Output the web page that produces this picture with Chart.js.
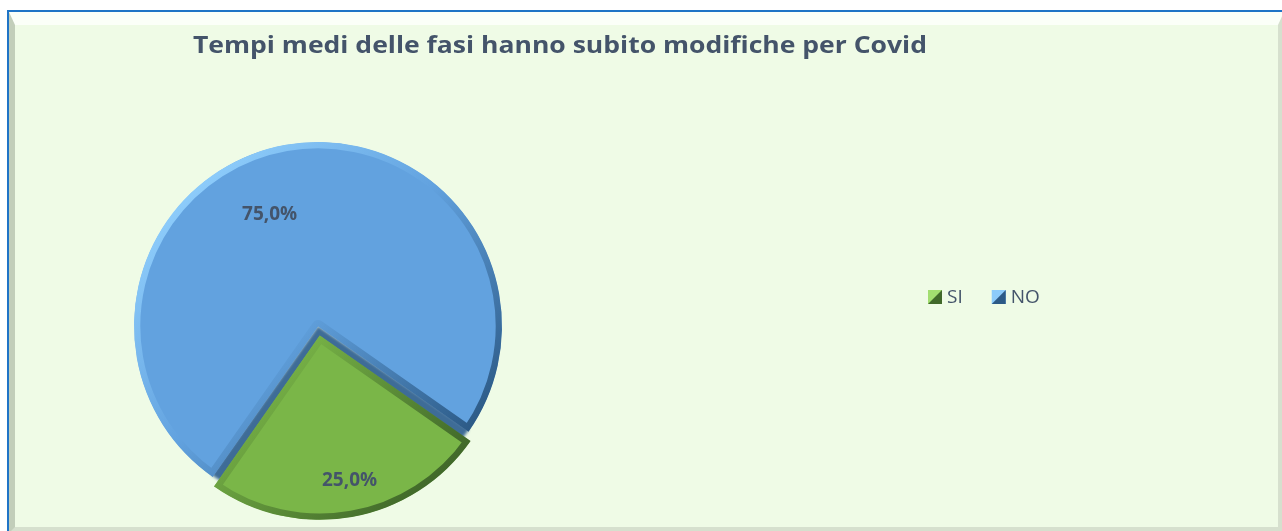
<!DOCTYPE html>
<html>
<head>
<meta charset="utf-8">
<script src="https://cdn.jsdelivr.net/npm/chart.js@4/dist/chart.umd.min.js"></script>
<style>
  html, body { margin: 0; padding: 0; width: 1282px; height: 531px; overflow: hidden; background: #ffffff; }
  #outer { position: absolute; left: 7px; top: 10px; width: 1290px; height: 530px;
           border-top: 2px solid #1F74C6; border-left: 2px solid #1F74C6; }
  #inner { position: absolute; left: 0; top: 0; width: 1275px; height: 521px; box-sizing: border-box;
           border-top: 13px solid #FBFFF8; border-left: 6px solid #C2CEBA;
           border-right: 6px solid #D6E0CE; border-bottom: 6px solid #D6E0CE; background: #EFFBE6; }
  #c { position: absolute; left: 0; top: 0; }
</style>
</head>
<body>
<div id="outer"><div id="inner"></div></div>
<canvas id="c" width="1282" height="531"></canvas>
<script>
const title = "Tempi medi delle fasi hanno subito modifiche per Covid";
const categories = ["SI", "NO"];
const values = [25.0, 75.0];
const valueLabels = ["25,0%", "75,0%"];
const sliceColors = ["#7AB648", "#62A2DF"];
const rimLight = ["#A2DE70", "#8CCBFA"];
const rimDark = ["#41692A", "#2C5A86"];
const cutShadow = "#3E6C97";

const TEXT = "#44546A";
const PIE_R = 184;

function rimGradient(c) {
  const chart = c.chart;
  const a = chart.chartArea;
  if (!a) return rimDark[c.dataIndex];
  const cx = (a.left + a.right) / 2, cy = (a.top + a.bottom) / 2;
  const g = chart.ctx.createLinearGradient(cx - PIE_R * 0.7, cy - PIE_R * 0.7, cx + PIE_R * 0.7, cy + PIE_R * 0.7);
  g.addColorStop(0, rimLight[c.dataIndex]);
  g.addColorStop(0.45, sliceColors[c.dataIndex]);
  g.addColorStop(1, rimDark[c.dataIndex]);
  return g;
}

// dark bevel of the big slice along the cut, visible behind the pulled-out slice
const cutShadowPlugin = {
  id: 'cutShadow',
  afterDatasetsDraw(chart) {},
  beforeDatasetDraw(chart) {
    const meta = chart.getDatasetMeta(0);
    const arc = meta.data[0];
    if (!arc) return;
    const ctx = chart.ctx;
    const p = arc.getProps(['x', 'y', 'startAngle', 'endAngle', 'outerRadius']);
    ctx.save();
    // draw the big slice first, then the shadow wedge, Chart.js redraws both slices after
    ctx.beginPath();
    ctx.moveTo(p.x, p.y);
    ctx.arc(p.x, p.y, p.outerRadius - 1, p.startAngle - 0.01, p.endAngle + 0.01);
    ctx.closePath();
    ctx.filter = 'blur(1.5px)';
    ctx.fillStyle = cutShadow;
    ctx.fill();
    ctx.restore();
  }
};

const titlePlugin = {
  id: 'customTitle',
  afterDraw(chart) {
    const ctx = chart.ctx;
    ctx.save();
    ctx.font = "bold 24px 'Open Sans'";
    ctx.fillStyle = TEXT;
    ctx.textBaseline = "alphabetic";
    const w = ctx.measureText(title).width;
    const target = 734;
    ctx.translate(193, 53);
    ctx.scale(target / w, 1);
    ctx.fillText(title, 0, 0);
    ctx.restore();
  }
};

const labelPlugin = {
  id: 'sliceLabels',
  afterDatasetsDraw(chart, args, opts) {
    const ctx = chart.ctx;
    const meta = chart.getDatasetMeta(0);
    const a = chart.chartArea;
    const cx = (a.left + a.right) / 2, cy = (a.top + a.bottom) / 2;
    ctx.save();
    ctx.font = "bold 19px 'Open Sans'";
    ctx.fillStyle = TEXT;
    ctx.textAlign = "center";
    ctx.textBaseline = "middle";
    meta.data.forEach((arc, i) => {
      const p = opts.pos[i];
      const mid = (arc.startAngle + arc.endAngle) / 2 + p.da * Math.PI / 180;
      const r = PIE_R * p.k;
      ctx.fillText(valueLabels[i], cx + Math.cos(mid) * r, cy + Math.sin(mid) * r);
    });
    ctx.restore();
  }
};

const legendPlugin = {
  id: 'customLegend',
  afterDraw(chart, args, opts) {
    const ctx = chart.ctx;
    ctx.save();
    ctx.font = "19px 'Open Sans'";
    ctx.textBaseline = "middle";
    let x = opts.x;
    const y = opts.y;
    const s = 14;
    categories.forEach((cat, i) => {
      ctx.fillStyle = rimLight[i];
      ctx.fillRect(x, y - s / 2, s, s);
      ctx.beginPath();
      ctx.moveTo(x + s, y - s / 2);
      ctx.lineTo(x + s, y + s / 2);
      ctx.lineTo(x, y + s / 2);
      ctx.closePath();
      ctx.fillStyle = rimDark[i];
      ctx.fill();
      ctx.fillStyle = TEXT;
      ctx.fillText(cat, x + s + 5, y + 1);
      x += s + 5 + ctx.measureText(cat).width + opts.gap;
    });
    ctx.restore();
  }
};

new Chart(document.getElementById('c'), {
  type: 'pie',
  data: {
    labels: categories,
    datasets: [{
      data: values,
      backgroundColor: sliceColors,
      borderColor: rimGradient,
      borderWidth: 6,
      borderAlign: 'inner',
      offset: [40, 0],
      hoverOffset: 0
    }]
  },
  options: {
    responsive: false,
    animation: false,
    devicePixelRatio: 1,
    rotation: 125,
    radius: PIE_R,
    layout: { padding: { left: 118, right: 764, top: 124, bottom: 3 } },
    plugins: {
      legend: { display: false },
      title: { display: false },
      tooltip: { enabled: false },
      sliceLabels: { pos: [{ k: 0.86, da: -1.5 }, { k: 0.66, da: -13.5 }] },
      customLegend: { x: 928, y: 297, gap: 29 }
    }
  },
  plugins: [cutShadowPlugin, titlePlugin, labelPlugin, legendPlugin]
});
</script>
</body>
</html>
